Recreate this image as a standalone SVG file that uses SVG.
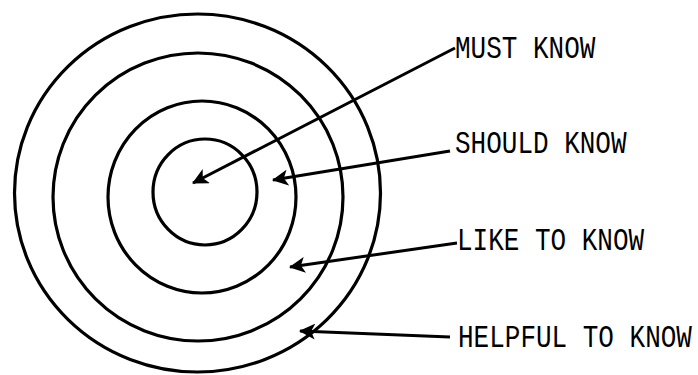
<svg xmlns="http://www.w3.org/2000/svg" width="698" height="375" viewBox="0 0 698 375">
<style>
.ring{fill:none;stroke:#000;stroke-width:3.2}
.lbl{font-family:"Liberation Mono","DejaVu Sans Mono",monospace;font-size:26px;fill:#000}
.conn{stroke:#000;stroke-width:3;fill:none;marker-end:url(#ah)}
</style>
<defs>
<marker id="ah" viewBox="0 0 16 16" refX="15" refY="8" markerWidth="16" markerHeight="16" orient="auto" markerUnits="userSpaceOnUse">
<path d="M16,8 L0,0 L4,8 L0,16 Z" fill="#000"/>
</marker>
</defs>
<rect width="698" height="375" fill="#fff"/>
<g id="ring-helpful"><ellipse class="ring" cx="197.5" cy="193" rx="183" ry="179"/></g>
<g id="ring-like"><ellipse class="ring" cx="198" cy="197" rx="145" ry="144"/></g>
<g id="ring-should"><ellipse class="ring" cx="202" cy="197" rx="94" ry="96"/></g>
<g id="ring-must"><ellipse class="ring" cx="205" cy="192" rx="52" ry="53"/></g>
<g id="connectors">
<line class="conn" x1="455" y1="48" x2="193" y2="183"/>
<line class="conn" x1="450" y1="151" x2="273" y2="180"/>
<line class="conn" x1="457" y1="243" x2="290" y2="267"/>
<line class="conn" x1="450" y1="337" x2="300" y2="331"/>
</g>
<g id="label-must"><text class="lbl" transform="translate(455 58) scale(1 1.18)">MUST KNOW</text></g>
<g id="label-should"><text class="lbl" transform="translate(455 153) scale(1 1.18)">SHOULD KNOW</text></g>
<g id="label-like"><text class="lbl" transform="translate(457 250) scale(1 1.18)">LIKE TO KNOW</text></g>
<g id="label-helpful"><text class="lbl" transform="translate(458 347) scale(1 1.18)">HELPFUL TO KNOW</text></g>
</svg>
